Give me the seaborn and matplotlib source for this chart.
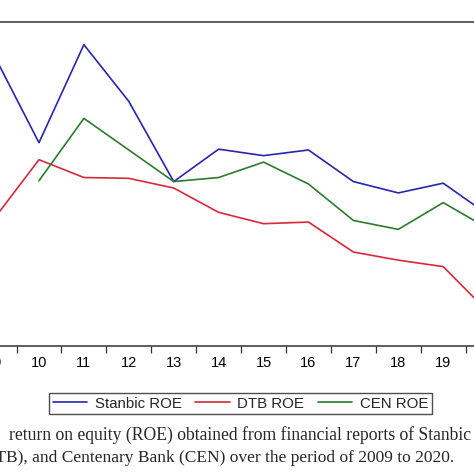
import numpy as np
import pandas as pd
import matplotlib
matplotlib.use("Agg")
import matplotlib.pyplot as plt
import seaborn as sns

# ROE (%) per year (2009-2020)
years = ["09", "10", "11", "12", "13", "14", "15", "16", "17", "18", "19", "20"]
stanbic_roe = [35.9, 25.1, 37.2, 30.2, 20.3, 24.3, 23.5, 24.2, 20.3, 18.9, 20.1, 16.2]
dtb_roe = [15.7, 23.0, 20.8, 20.7, 19.5, 16.5, 15.1, 15.3, 11.6, 10.6, 9.8, 4.2]
cen_roe = [np.nan, 20.4, 28.1, 24.2, 20.3, 20.8, 22.7, 20.0, 15.5, 14.4, 17.7, 14.5]
series_names = ["Stanbic ROE", "DTB ROE", "CEN ROE"]
colors = ["#2626b0", "#d8283a", "#2a7d2a"]

caption_1 = "return on equity (ROE) obtained from financial reports of Stanbic"
caption_2 = "(DTB), and Centenary Bank (CEN) over the period of 2009 to 2020."

df = pd.DataFrame({
    "pos": list(range(len(years))) * 3,
    "roe": stanbic_roe + dtb_roe + cen_roe,
    "series": [s for s in series_names for _ in years],
})

sns.set_style("white")
plt.rcParams["font.family"] = ["Liberation Sans", "DejaVu Sans"]

fig = plt.figure(figsize=(4.74, 4.74), dpi=100)
# axes deliberately wider than the figure (the reference is a crop)
ax = fig.add_axes([-28.4 / 474, 128 / 474, 539 / 474, 324 / 474])

sns.lineplot(data=df, x="pos", y="roe", hue="series", hue_order=series_names,
             palette=colors, linewidth=1.2, legend=False, ax=ax)

ax.set_xlim(-0.5, len(years) - 0.5)
ax.set_ylim(0, 40)
ax.set_xlabel("")
ax.set_ylabel("")
ax.set_yticks([])

ax.set_xticks(range(len(years)))
ax.set_xticklabels(years, fontsize=10.5)
ax.set_xticks(np.arange(0.5, len(years) - 1, 1.0), minor=True)
ax.tick_params(axis="x", which="major", length=0, pad=7.5, colors="black")
ax.tick_params(axis="x", which="minor", length=5, width=0.9, direction="out",
               color="#333333", bottom=True)

for side in ["top", "bottom", "left", "right"]:
    ax.spines[side].set_color("#333333")
    ax.spines[side].set_linewidth(1.1)

handles = [plt.Line2D([], [], color=c, linewidth=1.2) for c in colors]
leg = fig.legend(handles, series_names, loc="center",
                 bbox_to_anchor=(240.5 / 474, 1 - 403.5 / 474), ncol=3,
                 fontsize=10.8, frameon=True, fancybox=False, edgecolor="#222222",
                 handlelength=2.3, handletextpad=0.5, columnspacing=0.9,
                 borderpad=0.25)
leg.get_frame().set_linewidth(1.0)

fig.text(471 / 474, 1 - 440 / 474, caption_1, family="Liberation Serif",
         fontsize=12.7, va="baseline", ha="right")
fig.text(454 / 474, 1 - 461.7 / 474, caption_2, family="Liberation Serif",
         fontsize=12.5, va="baseline", ha="right")

fig.savefig("out.png", dpi=100)
